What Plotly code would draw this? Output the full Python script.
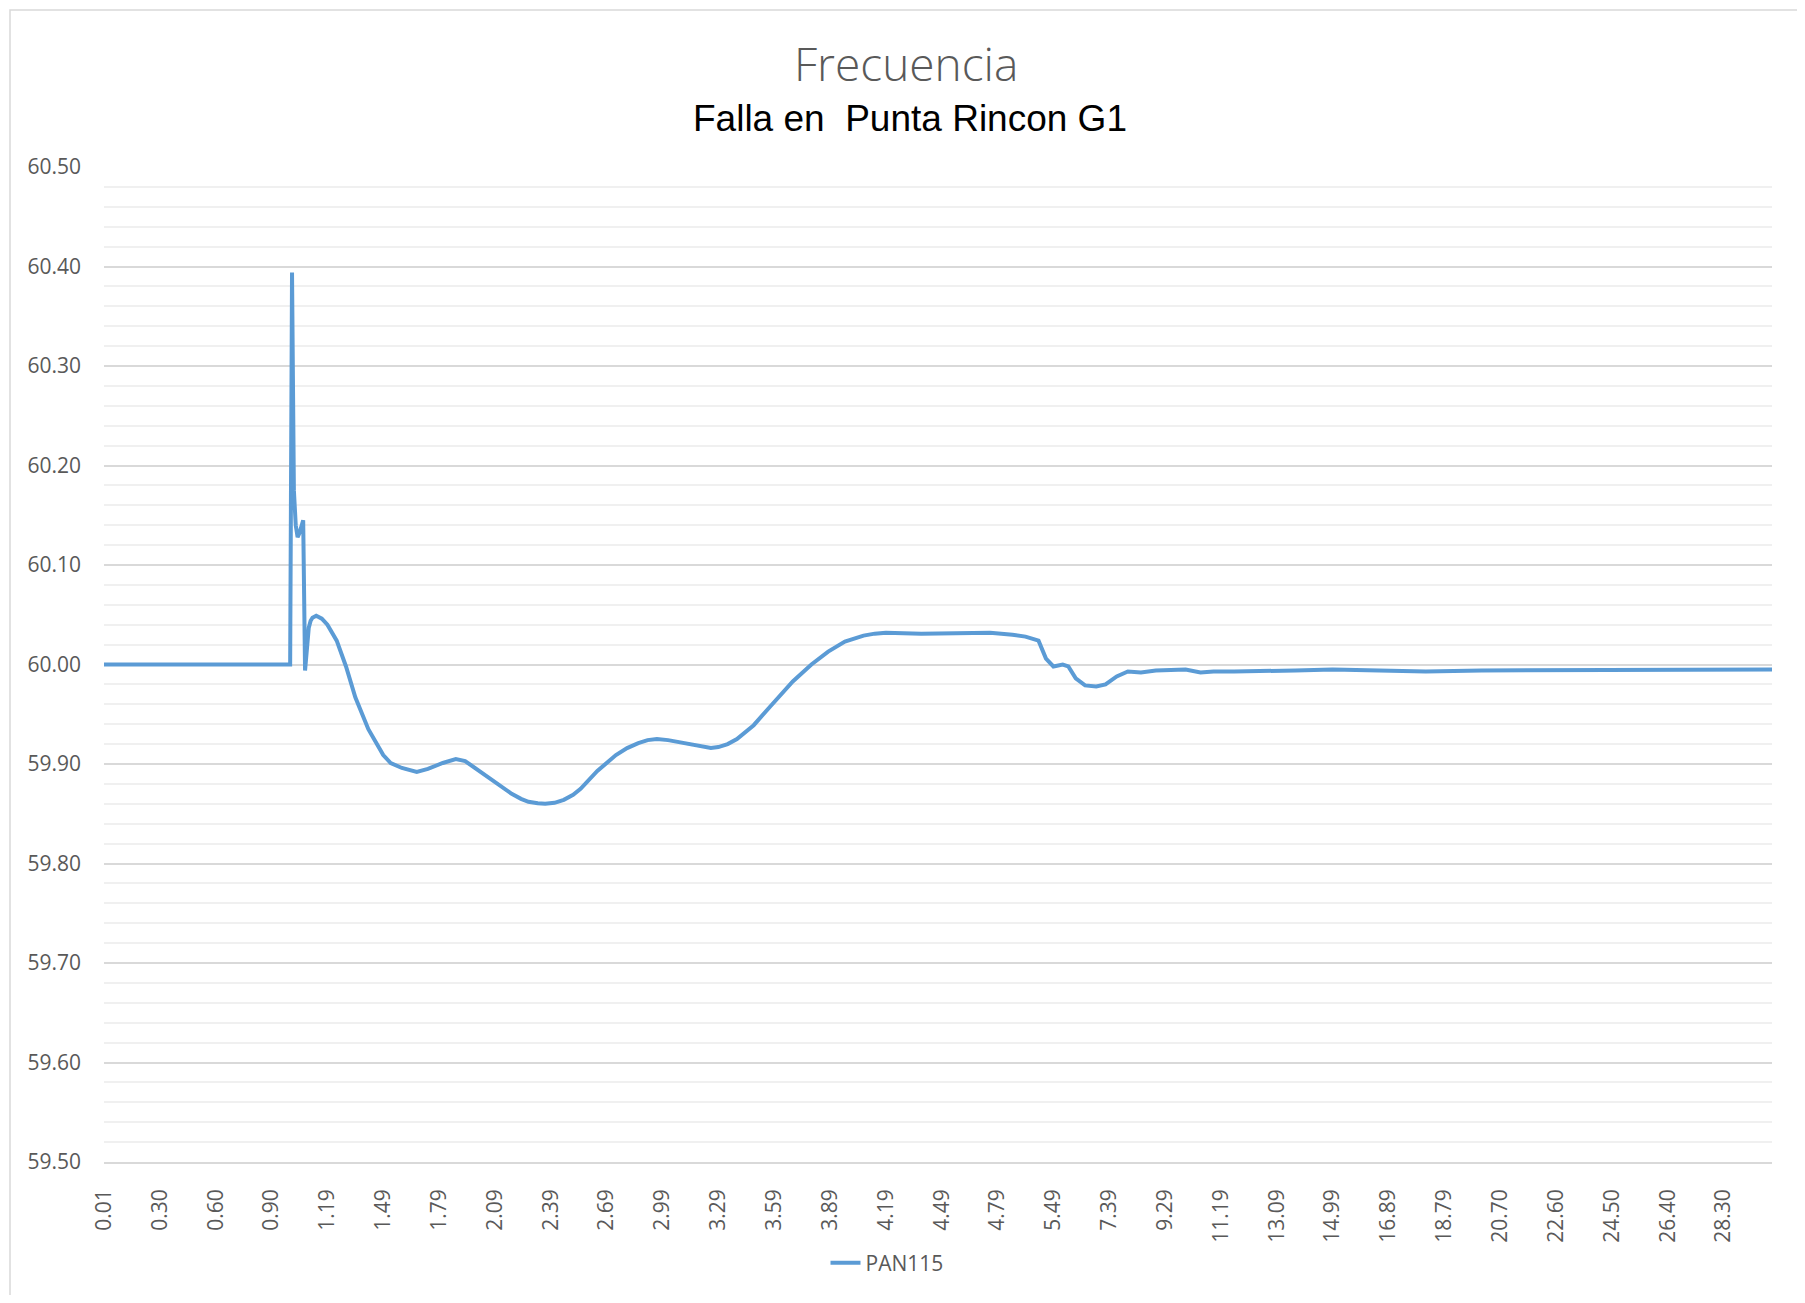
import plotly.graph_objects as go

# Category labels shown on the x axis (one every 30 samples)
time_labels = ["0.01", "0.30", "0.60", "0.90", "1.19", "1.49", "1.79", "2.09", "2.39",
               "2.69", "2.99", "3.29", "3.59", "3.89", "4.19", "4.49", "4.79", "5.49",
               "7.39", "9.29", "11.19", "13.09", "14.99", "16.89", "18.79", "20.70",
               "22.60", "24.50", "26.40", "28.30"]
label_step = 30
last_sample = 896

# Sample index (category position) and frequency
sample_index = [0, 100, 101, 102, 103, 104, 105, 106, 107, 108, 109, 110, 111, 112, 114,
                117, 120, 125, 130, 135, 142, 150, 154, 160, 168, 174, 182, 189, 194,
                200, 210, 219, 224, 228, 233, 237, 242, 247, 252, 256, 265, 275, 281, 287,
                292, 297, 303, 309, 321, 326, 330, 335, 340, 349, 358, 370, 380, 389, 398,
                408, 414, 420, 439, 457, 476, 488, 495,
                502, 506, 510, 515, 518, 522, 527, 533, 538, 544, 550, 557, 565, 573,
                581, 589, 596, 607, 616, 640, 660, 680, 690, 710, 740, 780, 820, 860, 896]
freq = [60.000, 60.000, 60.394, 60.175, 60.140, 60.128, 60.132, 60.139, 60.145, 59.994,
        60.022, 60.037, 60.044, 60.047, 60.049, 60.046, 60.040, 60.024, 59.998, 59.967,
        59.935, 59.909, 59.901, 59.896, 59.892, 59.895, 59.901, 59.905, 59.903, 59.895,
        59.882, 59.870, 59.865, 59.862, 59.8605, 59.860, 59.861, 59.864, 59.869, 59.875,
        59.893, 59.909, 59.916, 59.921, 59.924, 59.925, 59.924, 59.922, 59.917, 59.916,
        59.917, 59.920, 59.925, 59.939, 59.958, 59.983, 60.000, 60.013, 60.023,
        60.029, 60.031, 60.032, 60.031, 60.031, 60.032, 60.030, 60.028,
        60.024, 60.006, 59.998,
        60.000, 59.998, 59.986, 59.979, 59.978, 59.980, 59.988, 59.993, 59.992, 59.994,
        59.995, 59.995, 59.992, 59.993, 59.993, 59.993, 59.994, 59.995, 59.994, 59.993,
        59.993, 59.994, 59.994, 59.994, 59.995, 59.995]

# The page body adds an 8px margin; all pixel positions below are page pixels.
OFF = 8
W, H = 1805 - 2 * OFF, 1303 - 2 * OFF
PL, PR, PT, PB = 104, 1772, 167, 1162          # plot area in page pixels
L, R, T, B = PL - OFF, (W + OFF) - PR, PT - OFF, (H + OFF) - PB
pw, ph = PR - PL, PB - PT


def px(x):
    return (x - PL) / pw


def py(y):
    return (PB - y) / ph


fig = go.Figure()
fig.add_trace(go.Scatter(x=sample_index, y=freq, mode="lines", name="PAN115",
                         line=dict(color="#5B9BD5", width=4)))

font_family = "Open Sans"
fig.update_layout(
    width=W, height=H,
    margin=dict(l=L, r=R, t=T, b=B),
    paper_bgcolor="white", plot_bgcolor="white",
    showlegend=True,
    legend=dict(orientation="h", x=px(887), y=py(1263), xanchor="center", yanchor="middle",
                font=dict(family=font_family, size=21, color="#595959")),
    annotations=[
        dict(text="Frecuencia", x=px(906), y=py(63), xref="paper", yref="paper",
             showarrow=False, xanchor="center", yanchor="middle",
             font=dict(family=font_family, size=46, color="#595959", weight=300)),
        dict(text="Falla en  Punta Rincon G1", x=px(910), y=py(118), xref="paper", yref="paper",
             showarrow=False, xanchor="center", yanchor="middle",
             font=dict(family="Liberation Sans", size=37, color="black")),
    ],
    shapes=[dict(type="rect", xref="paper", yref="paper", x0=px(10), x1=px(1800),
                 y0=py(1300), y1=py(10), line=dict(color="#d9d9d9", width=1.5),
                 fillcolor="rgba(0,0,0,0)", layer="below")],
)
fig.update_xaxes(
    range=[0, last_sample], showgrid=False, zeroline=False,
    showline=True, linecolor="#d9d9d9", linewidth=1.5,
    tickmode="array",
    tickvals=[i * label_step for i in range(len(time_labels))],
    ticktext=time_labels, tickangle=-90, ticks="", ticklabelstandoff=17,
    tickfont=dict(family=font_family, size=21, color="#595959"),
)
fig.update_yaxes(
    range=[59.5, 60.5], dtick=0.1, tickformat=".2f", zeroline=False,
    showgrid=True, gridcolor="#d9d9d9", gridwidth=1.5, showline=False,
    ticks="", ticklabelstandoff=22,
    minor=dict(dtick=0.02, showgrid=True, gridcolor="#f0f0f0", gridwidth=1.5),
    tickfont=dict(family=font_family, size=21, color="#595959"),
)

fig.write_html("out.html")
